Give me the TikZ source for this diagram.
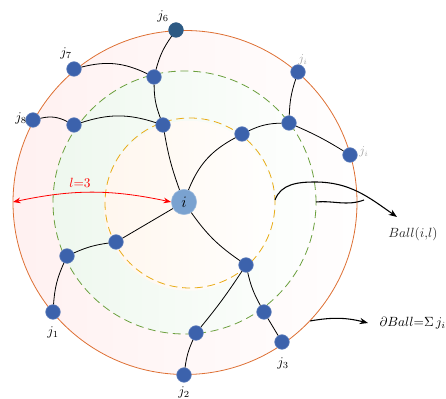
\documentclass[tikz,border=0pt]{standalone}
\usepackage{tikz}
\usetikzlibrary{arrows.meta}

\definecolor{vblue}{RGB}{60,98,172}
\definecolor{cblue}{RGB}{122,162,208}
\definecolor{dblue}{RGB}{45,90,132}
\definecolor{ringout}{RGB}{222,112,52}
\definecolor{ringmid}{RGB}{108,160,62}
\definecolor{ringin}{RGB}{232,172,22}

\begin{document}
\begin{tikzpicture}[
  x=0.75pt, y=0.75pt,
  font=\normalsize,
  vnode/.style={circle, fill=vblue, draw=vblue!75!white, inner sep=0pt, minimum size=11pt},
  link/.style={line width=0.6pt, black},
  ring/.style={line width=0.6pt},
  hop/.style={ring, dash pattern=on 6pt off 3.5pt},
  ptr/.style={-{Stealth[length=2.2mm]}, line width=0.8pt},
  glab/.style={gray!70, font=\small}
]
\useasboundingbox (0,0) rectangle (446,399);

% balls
\shade[rotate around={-35:(185,196.5)}, left color=red!6, right color=white] (185,196.5) circle (172);
\shade[rotate around={-35:(185,196.5)}, left color=green!40!gray!10, right color=white] (184.5,196.5) circle (131.5);
\shade[rotate around={-35:(185,196.5)}, left color=orange!7, right color=white] (190,196) circle (85);
\draw[ring, ringout] (185,196.5) circle (172);
\draw[hop, ringmid] (184.5,196.5) circle (131.5);
\draw[hop, ringin] (190,196) circle (85);

% vertices
\node[circle, fill=cblue, draw=cblue!70!white, inner sep=0pt, minimum size=19pt] (i) at (184,197) {\large$i$};
\node[vnode, fill=dblue, draw=dblue] (j6) at (176,369) {};
\node[vnode] (j7) at (74,330) {};
\node[vnode] (j8) at (33,279) {};
\node[vnode] (a1) at (154,322) {};
\node[vnode] (a2) at (74,274) {};
\node[vnode] (a3) at (163,274) {};
\node[vnode] (b1) at (242,265) {};
\node[vnode] (b2) at (289,276) {};
\node[vnode] (jA) at (298,327) {};
\node[vnode] (jB) at (350,244) {};
\node[vnode] (c1) at (116,157) {};
\node[vnode] (c2) at (67,143) {};
\node[vnode] (j1) at (53,87) {};
\node[vnode] (d1) at (246,134) {};
\node[vnode] (d2) at (264,87) {};
\node[vnode] (j3) at (282,57) {};
\node[vnode] (d3) at (196,66) {};
\node[vnode] (j2) at (184,24) {};

% edges
\draw[link] (j6) to[bend right=10] (a1);
\draw[link] (j7) to[bend left=20] (a1);
\draw[link] (a1) to[bend right=10] (a3);
\draw[link] (j8) to[bend left=20] (a2);
\draw[link] (a2) to[bend left=18] (a3);
\draw[link] (a3) to[bend right=5] (i);
\draw[link] (i) to[bend left=20] (b1);
\draw[link] (b1) to[bend left=12] (b2);
\draw[link] (b2) to[bend left=8] (jA);
\draw[link] (b2) to[bend left=4] (jB);
\draw[link] (i) -- (c1);
\draw[link] (c1) to[bend right=8] (c2);
\draw[link] (c2) to[bend right=10] (j1);
\draw[link] (i) to[bend right=10] (d1);
\draw[link] (d1) to[bend left=3] (d3);
\draw[link] (d3) to[bend right=8] (j2);
\draw[link] (d1) to[bend right=8] (d2);
\draw[link] (d2) -- (j3);

% labels
\node (lj6) at (163,383) {$j_6$};
\node (lj7) at (66,346) {$j_7$};
\node (lj8) at (21,281) {$j_8$};
\node[glab] (ljA) at (303,339) {$j_i$};
\node[glab] (ljB) at (364,247) {$j_i$};
\node (lj1) at (53,67) {$j_1$};
\node (lj2) at (184,7) {$j_2$};
\node (lj3) at (283,36) {$j_3$};

% radius
\coordinate (rl) at (13,197);
\draw[{Stealth[length=2mm]}-{Stealth[length=2mm]}, red, line width=0.6pt] (rl) to[bend left=12] (i.west);
\node[red] (lr) at (80,216) {$l{=}3$};

% pointers
\coordinate (bin) at (275,199);
\coordinate (bmid) at (316,197);
\coordinate (btip) at (397,182);
\node[gray!30!black, anchor=north] (ball) at (413,176) {$Ball(i{,}l)$};
\draw[ptr] (bin) to[out=70, in=180] (315,217) to[out=0, in=145] (btip);
\draw[line width=0.8pt] (bmid) to[out=5, in=200] (364,199);
\coordinate (sin) at (310,78);
\coordinate (stip) at (368,76);
\draw[ptr] (sin) to[bend left=12] (stip);
\node[anchor=west, inner sep=1pt] (dball) at (378,76) {$\partial Ball{=}\Sigma\, j_i$};
\end{tikzpicture}
\end{document}
